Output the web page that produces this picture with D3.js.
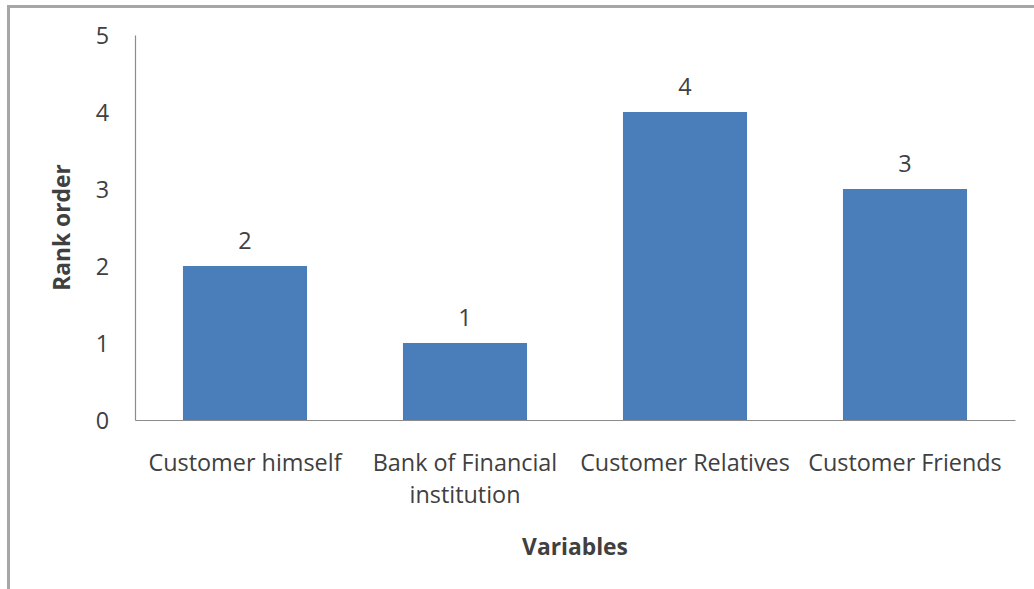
<!DOCTYPE html>
<html>
<head>
<meta charset="utf-8">
<script src="https://cdn.jsdelivr.net/npm/d3@7"></script>
<style>
  html, body { margin: 0; padding: 0; background: #fff; }
  svg { display: block; }
  text { font-family: "Open Sans", "Noto Sans", sans-serif; fill: #404040; }
</style>
</head>
<body>
<svg id="chart" width="1034" height="589"></svg>
<script>
// Rank order of each source variable
const categories = ["Customer himself", "Bank of Financial institution", "Customer Relatives", "Customer Friends"];
const categoryLines = [["Customer himself"], ["Bank of Financial", "institution"], ["Customer Relatives"], ["Customer Friends"]];
const rankValues = [2, 1, 4, 3];
const yTicks = [0, 1, 2, 3, 4, 5];

const svg = d3.select("#chart");
const W = 1034, H = 589;
const plot = { left: 135, right: 1015, top: 35, bottom: 420 };
const labelSize = 23.4;
const titleSize = 22.8;

// outer frame (top and left edges)
svg.append("path")
  .attr("d", `M8.5,${H} L8.5,6.5 L${W},6.5`)
  .attr("fill", "none")
  .attr("stroke", "#a6a6a6")
  .attr("stroke-width", 3);

const x = d3.scaleBand()
  .domain(categories)
  .range([plot.left, plot.right])
  .paddingInner(0.436)
  .paddingOuter(0.218);

const y = d3.scaleLinear()
  .domain([0, 5])
  .range([plot.bottom, plot.top]);

// bars
svg.append("g").selectAll("rect")
  .data(categories)
  .join("rect")
  .attr("x", d => x(d))
  .attr("y", (d, i) => y(rankValues[i]))
  .attr("width", x.bandwidth())
  .attr("height", (d, i) => y(0) - y(rankValues[i]))
  .attr("fill", "#4a7ebb");

// value labels
svg.append("g").selectAll("text")
  .data(categories)
  .join("text")
  .attr("x", d => x(d) + x.bandwidth() / 2)
  .attr("y", (d, i) => y(rankValues[i]) - 17)
  .attr("text-anchor", "middle")
  .attr("font-size", labelSize)
  .text((d, i) => rankValues[i]);

// y axis
const yAxis = d3.axisLeft(y).tickValues(yTicks).tickSize(0).tickPadding(26).tickFormat(d3.format("d"));
const gy = svg.append("g").attr("transform", `translate(${plot.left},0)`).call(yAxis);
gy.select(".domain").attr("stroke", "#8c8c8c").attr("stroke-width", 1.2);
gy.selectAll(".tick text")
  .attr("font-size", labelSize)
  .attr("font-family", null)
  .attr("fill", "#404040")
  .attr("dy", "0.36em");

// x axis
const xAxis = d3.axisBottom(x).tickSize(0).tickFormat("");
const gx = svg.append("g").attr("transform", `translate(0,${plot.bottom})`).call(xAxis);
gx.select(".domain").attr("stroke", "#8c8c8c").attr("stroke-width", 1.2);

// category labels (wrapped)
const catLabels = svg.append("g").selectAll("text")
  .data(categories)
  .join("text")
  .attr("text-anchor", "middle")
  .attr("font-size", labelSize)
  .attr("x", d => x(d) + x.bandwidth() / 2)
  .attr("y", plot.bottom + 51);
catLabels.each(function(d, i) {
  const t = d3.select(this);
  categoryLines[i].forEach((line, k) => {
    t.append("tspan")
      .attr("x", x(d) + x.bandwidth() / 2)
      .attr("dy", k === 0 ? 0 : 32)
      .text(line);
  });
});

// axis titles
svg.append("text")
  .attr("x", (plot.left + plot.right) / 2)
  .attr("y", 555)
  .attr("text-anchor", "middle")
  .attr("font-size", titleSize)
  .attr("font-weight", "bold")
  .text("Variables");

svg.append("text")
  .attr("transform", `translate(70,${(plot.top + plot.bottom) / 2}) rotate(-90)`)
  .attr("text-anchor", "middle")
  .attr("font-size", titleSize)
  .attr("font-weight", "bold")
  .text("Rank order");
</script>
</body>
</html>
